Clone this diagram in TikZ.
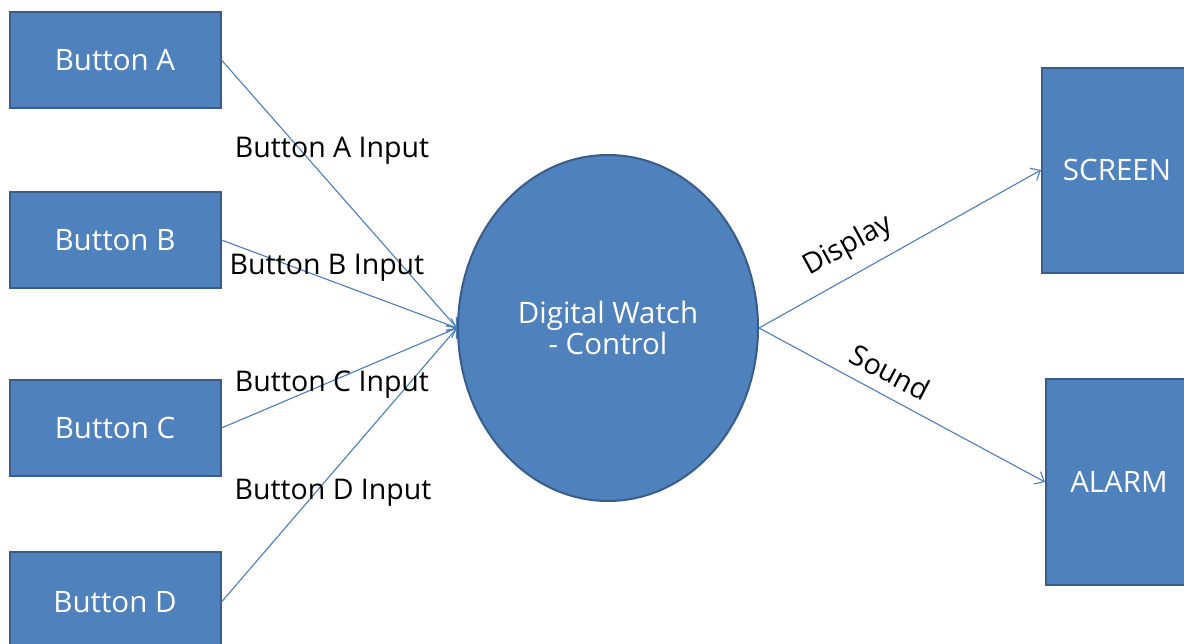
\documentclass[tikz,border=0pt]{standalone}
\usepackage{fontspec}
\setmainfont{Open Sans}
\usetikzlibrary{arrows.meta,shapes.geometric}
\definecolor{boxfill}{HTML}{4F81BD}
\definecolor{boxline}{HTML}{385D8A}
\definecolor{arrowc}{HTML}{4A7EBB}
\begin{document}
\begin{tikzpicture}[x=1pt,y=-1pt,
  box/.style={draw=boxline,line width=2pt,fill=boxfill,text=white,font=\fontsize{29.5}{33}\selectfont,inner sep=0pt},
  lbl/.style={text=black,font=\fontsize{28.5}{32}\selectfont,inner sep=1pt},
  conn/.style={draw=arrowc,line width=1.1pt,-{Straight Barb[length=8pt,width=14pt]}}]
\useasboundingbox (0,0) rectangle (1184,643);
\clip (0,0) rectangle (1184,643);
\fill[white] (0,0) rectangle (1184,643);
\node[box,minimum width=211pt,minimum height=96pt] (A) at (115,60) {Button A};
\node[box,minimum width=211pt,minimum height=96pt] (B) at (115,240) {Button B};
\node[box,minimum width=211pt,minimum height=96pt] (C) at (115,428) {Button C};
\node[box,minimum width=211pt,minimum height=100pt] (D) at (115,602) {Button D};
\node[box,minimum width=150pt,minimum height=205pt,text width=142pt,align=center] (S) at (1117,170) {SCREEN};
\node[box,minimum width=146pt,minimum height=206pt,text width=138pt,align=center] (L) at (1119,482) {ALARM};
\node[box,ellipse,minimum width=300pt,minimum height=346pt,align=center] (W) at (608,328) {Digital Watch\\[-2pt]- Control};
\draw[conn] (A.east) -- (W.west);
\draw[conn] (B.east) -- (W.west);
\draw[conn] (C.east) -- (W.west);
\draw[conn] (D.east) -- (W.west);
\draw[conn] (W.east) -- (S.west);
\draw[conn] (W.east) -- (L.west);
\node[lbl] (la) at (332,151) {Button A Input};
\node[lbl] (lb) at (327,268) {Button B Input};
\node[lbl] (lc) at (332,385) {Button C Input};
\node[lbl] (ld) at (333,493) {Button D Input};
\node[lbl,rotate=28.6] (ldisp) at (848,246) {Display};
\node[lbl,rotate=-27.5] (lsnd) at (890,372) {Sound};
\end{tikzpicture}
\end{document}
